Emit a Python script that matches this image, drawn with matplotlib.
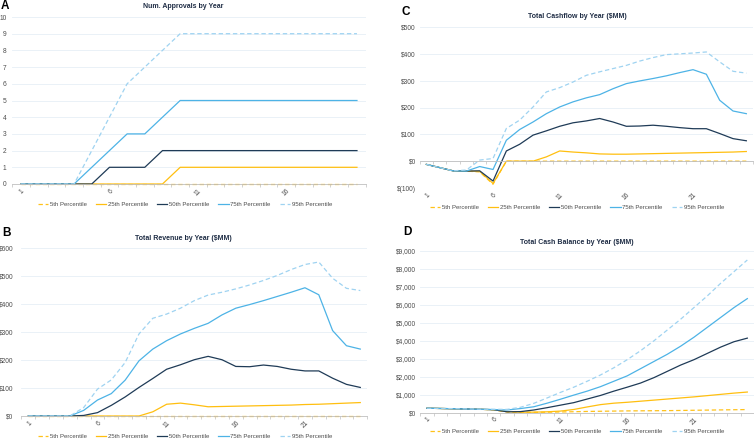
import matplotlib
matplotlib.use("Agg")
import matplotlib.pyplot as plt
import numpy as np

plt.rcParams['font.family'] = ['Liberation Sans', 'DejaVu Sans']

W, H = 754, 438

# ---- data ----
years_a = list(range(1, 21))
years = list(range(1, 26))

appr_p5 = [0, 0, 0, 0, 0, 0, 0, 0, 0, 0, 0, 0, 0, 0, 0, 0, 0, 0, 0, 0]
appr_p25 = [0, 0, 0, 0, 0, 0, 0, 0, 0, 1, 1, 1, 1, 1, 1, 1, 1, 1, 1, 1]
appr_p50 = [0, 0, 0, 0, 0, 1, 1, 1, 2, 2, 2, 2, 2, 2, 2, 2, 2, 2, 2, 2]
appr_p75 = [0, 0, 0, 0, 1, 2, 3, 3, 4, 5, 5, 5, 5, 5, 5, 5, 5, 5, 5, 5]
appr_p95 = [0, 0, 0, 0, 2, 4, 6, 7, 8, 9, 9, 9, 9, 9, 9, 9, 9, 9, 9, 9]

rev_p5 = [0, 0, 0, 0, 0, 0, 0, 0, 0, 0, 0, 0, 0, 0, 0, 0, 0, 0, 0, 0, 0, 0, 0, 0, 0]
rev_p25 = [0, 0, 0, 0, 0, 0, 0, 0, 0, 15, 42, 46, 40, 33, 34, 35, 36, 37, 38, 39,
           41, 42, 44, 46, 48]
rev_p50 = [0, 0, 0, 0, 2, 12, 38, 68, 102, 134, 167, 183, 201, 213, 201, 177, 176,
           182, 177, 167, 161, 161, 135, 113, 102]
rev_p75 = [0, 0, 0, 0, 20, 57, 80, 128, 197, 239, 269, 293, 313, 331, 361, 385, 398,
           412, 427, 442, 458, 433, 305, 251, 239]
rev_p95 = [0, 0, 0, 0, 30, 96, 129, 191, 293, 349, 364, 385, 412, 432, 442, 454, 468,
           484, 502, 523, 541, 550, 492, 456, 448]

cf_p5 = [-12, -24, -36, -37, -40, -86, 0, 0, 0, 0, 0, 0, 0, 0, 0, 0, 0, 0, 0, 0,
         0, 0, 0, 0, 0]
cf_p25 = [-12, -24, -36, -37, -38, -83, 0, 0, 0, 16, 38, 34, 31, 27, 26, 26, 27, 28,
          29, 30, 31, 32, 33, 34, 36]
cf_p50 = [-12, -24, -36, -37, -36, -74, 38, 63, 97, 113, 130, 143, 150, 159, 146, 130,
          131, 134, 130, 125, 121, 121, 103, 84, 76]
cf_p75 = [-12, -24, -36, -37, -20, -31, 78, 118, 146, 177, 202, 221, 236, 248, 270,
          289, 299, 308, 318, 330, 341, 324, 227, 187, 177]
cf_p95 = [-12, -24, -36, -33, 4, 10, 122, 153, 202, 258, 274, 295, 320, 333, 345, 357,
          373, 386, 397, 400, 403, 407, 370, 335, 328]

cash_p5 = [250, 235, 220, 205, 190, 160, 40, 20, 20, 30, 40, 55, 70, 80, 90, 100, 105,
           110, 115, 125, 135, 145, 155, 165, 175]
cash_p25 = [250, 235, 220, 205, 190, 165, 60, 30, 30, 50, 90, 180, 320, 450, 530, 580,
            640, 700, 760, 820, 880, 950, 1020, 1090, 1150]
cash_p50 = [250, 235, 220, 205, 190, 165, 50, 60, 150, 280, 420, 560, 760, 960, 1200,
            1420, 1650, 1950, 2300, 2650, 2950, 3300, 3650, 3950, 4150]
cash_p75 = [250, 235, 220, 205, 190, 175, 150, 230, 330, 530, 750, 980, 1200, 1450,
            1750, 2050, 2450, 2850, 3250, 3700, 4200, 4750, 5300, 5850, 6350]
cash_p95 = [250, 238, 225, 212, 200, 190, 185, 300, 520, 820, 1130, 1420, 1750, 2100,
            2500, 2950, 3450, 4000, 4600, 5200, 5850, 6500, 7200, 7850, 8500]

series_names = ['5th Percentile', '25th Percentile', '50th Percentile',
                '75th Percentile', '95th Percentile']
label_years = [1, 6, 11, 16, 21]

# ---- styling ----
colors = ['#FFC21A', '#FFBF10', '#1F3B57', '#4DB3E6', '#9FD3F1']
styles = ['--', '-', '-', '-', '--']
GRID = '#E6EFF6'
AXIS = '#BFBFBF'
TXT = '#4D4D4D'
TITLE = '#1F2D45'
TICK_FS = 4.8


def px_rect(left, top, right, bottom):
    return [left / W, 1 - bottom / H, (right - left) / W, (bottom - top) / H]


fig = plt.figure(figsize=(W / 100, H / 100), dpi=100)


def panel(rect, x, ys, ylim, yticks, ylabels, ypad, legend_xy, zero_axis=False):
    ax = fig.add_axes(px_rect(*rect))
    n = len(x)
    for y, c, ls, name in zip(ys, colors, styles, series_names):
        line, = ax.plot(x, y, color=c, lw=0.9, ls=ls, label=name, clip_on=False,
                        solid_joinstyle='round')
        if ls == '--':
            line.set_dashes((3.5, 2.2))
    ax.set_xlim(0.5, n + 0.5)
    ax.set_ylim(*ylim)
    for s in ['top', 'right', 'left']:
        ax.spines[s].set_visible(False)
    ax.spines['bottom'].set_color(AXIS)
    ax.spines['bottom'].set_linewidth(0.6)
    ax.set_yticks(yticks)
    ax.set_yticklabels(ylabels)
    ax.tick_params(axis='y', length=0, pad=ypad, labelsize=TICK_FS, labelcolor=TXT)
    ax.yaxis.grid(True, color=GRID, lw=0.6)
    ax.set_axisbelow(True)
    ax.set_xticks(np.arange(0.5, n + 1, 1), minor=True)
    ax.tick_params(axis='x', which='minor', length=2, width=0.5, color=AXIS,
                   direction='out')
    majors = [v for v in label_years if v <= n]
    if zero_axis:
        ax.spines['bottom'].set_position(('data', 0))
        ax.set_xticks(majors)
        ax.tick_params(axis='x', which='major', length=0, labelbottom=False)
        sec = ax.secondary_xaxis(0.0)
        sec.spines['bottom'].set_visible(False)
        sec.set_xticks(majors)
        sec.set_xticklabels([str(v) for v in majors], rotation=45, ha='right',
                            rotation_mode='anchor')
        sec.tick_params(axis='x', length=0, pad=2.5, labelsize=TICK_FS,
                        labelcolor=TXT)
    else:
        ax.set_xticks(majors)
        ax.set_xticklabels([str(v) for v in majors], rotation=45, ha='right',
                           rotation_mode='anchor')
        ax.tick_params(axis='x', which='major', length=0, pad=2.5,
                       labelsize=TICK_FS, labelcolor=TXT)
    ax.legend(loc='center', bbox_to_anchor=(legend_xy[0] / W, 1 - legend_xy[1] / H),
              bbox_transform=fig.transFigure, ncol=5, frameon=False, fontsize=4.3,
              handlelength=1.7, handletextpad=0.3, columnspacing=1.5,
              labelcolor=TXT, borderpad=0)
    return ax


# A: approvals
panel((12.2, 17, 365.8, 184), years_a,
      [appr_p5, appr_p25, appr_p50, appr_p75, appr_p95],
      (0, 10), list(range(0, 11)), [str(v) for v in range(0, 11)], 4.0, (185, 204))

# B: revenue
rev_ticks = [0, 100, 200, 300, 400, 500, 600]
panel((21.4, 248, 367.2, 416), years,
      [rev_p5, rev_p25, rev_p50, rev_p75, rev_p95],
      (0, 600), rev_ticks, ['$%d' % v for v in rev_ticks], 5.8, (185, 436))

# C: cashflow
cf_ticks = [-100, 0, 100, 200, 300, 400, 500]
cf_labels = ['$(100)' if v < 0 else '$%d' % v for v in cf_ticks]
panel((419.7, 27, 753, 188), years,
      [cf_p5, cf_p25, cf_p50, cf_p75, cf_p95],
      (-100, 500), cf_ticks, cf_labels, 2.7, (577, 207), zero_axis=True)

# D: cash balance
cash_ticks = list(range(0, 10000, 1000))
panel((420.3, 251, 754, 412.7), years,
      [cash_p5, cash_p25, cash_p50, cash_p75, cash_p95],
      (0, 9000), cash_ticks, ['${:,}'.format(v) for v in cash_ticks], 3.1, (577, 431))

titles = [('Num. Approvals by Year', 183, 7),
          ('Total Cashflow by Year ($MM)', 577, 17),
          ('Total Revenue by Year ($MM)', 183, 239),
          ('Total Cash Balance by Year ($MM)', 577, 242)]
for t, tx, ty in titles:
    fig.text(tx / W, 1 - ty / H, t, ha='center', va='center', fontsize=5.0,
             fontweight='bold', color=TITLE)

letters = [('A', 1, 0), ('C', 402, 6), ('B', 2, 227), ('D', 403, 226)]
for t, tx, ty in letters:
    fig.text(tx / W, 1 - ty / H, t, ha='left', va='top', fontsize=8.5,
             fontweight='bold', color='black')

fig.savefig('out.png', dpi=100)
